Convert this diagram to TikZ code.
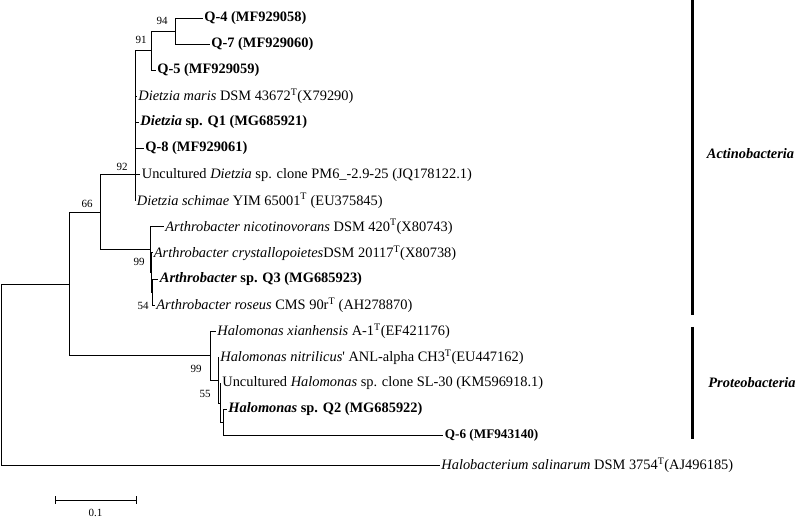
\documentclass[tikz,border=0pt]{standalone}
\usepackage{fontspec}
\setmainfont{Liberation Serif}
\newcommand{\strT}{\textsuperscript{T}}

\begin{document}
\begin{tikzpicture}[x=1pt,y=-1pt,line width=0.8pt,every node/.style={inner sep=1.5pt},leaf/.style={anchor=west,font=\fontsize{14.4}{16}\selectfont},boot/.style={inner sep=0pt,font=\fontsize{11}{12}\selectfont},clade/.style={anchor=west,font=\fontsize{14.4}{16}\selectfont\bfseries\itshape},bar/.style={line width=3pt}]
\useasboundingbox (0,0) rectangle (798,521);
% inner nodes
\coordinate (root) at (1,374.5);
\coordinate (nA) at (69,284);
\coordinate (n66) at (100,212.2);
\coordinate (n92) at (135,174.8);
\coordinate (n91) at (151.7,50.6);
\coordinate (n94) at (175,31.05);
\coordinate (nA99) at (150.5,249.6);
\coordinate (nX) at (151.5,272.5);
\coordinate (n54) at (152.5,292);
\coordinate (nH99) at (210.5,355.7);
\coordinate (n55) at (218.5,380.2);
\coordinate (nY) at (220.5,403);
\coordinate (nZ) at (223.5,422.5);
% taxa
\node[leaf] (q4) at (202.5,18) {\textbf{Q-4 (MF929058)}};
\node[leaf] (q7) at (209.5,44.1) {\textbf{Q-7 (MF929060)}};
\node[leaf] (q5) at (155.5,70.2) {\textbf{Q-5 (MF929059)}};
\node[leaf] (dmaris) at (136.5,96.3) {\textit{Dietzia maris} DSM 43672\strT(X79290)};
\node[leaf] (q1) at (138.5,122.4) {\textbf{\textit{Dietzia} sp. Q1 (MG685921)}};
\node[leaf] (q8) at (143.5,148.5) {\textbf{Q-8 (MF929061)}};
\node[leaf] (undiet) at (140,174.6) {Uncultured \textit{Dietzia} sp. clone PM6\_-2.9-25 (JQ178122.1)};
\node[leaf] (dschim) at (135,200.7) {\textit{Dietzia schimae} YIM 65001\strT{} (EU375845)};
\node[leaf] (anicot) at (163.5,226.8) {\textit{Arthrobacter nicotinovorans} DSM 420\strT(X80743)};
\node[leaf] (acryst) at (152,252.9) {\textit{Arthrobacter crystallopoietes}DSM 20117\strT(X80738)};
\node[leaf] (q3) at (158,279) {\textbf{\textit{Arthrobacter} sp. Q3 (MG685923)}};
\node[leaf] (aros) at (154.5,305.1) {\textit{Arthrobacter roseus} CMS 90r\strT{} (AH278870)};
\node[leaf] (hxian) at (215.5,331.2) {\textit{Halomonas xianhensis} A-1\strT(EF421176)};
\node[leaf] (hnitr) at (218.5,357.3) {\textit{Halomonas nitrilicus}\textquotesingle{} ANL-alpha CH3\strT(EU447162)};
\node[leaf] (unhalo) at (220.5,383.4) {Uncultured \textit{Halomonas} sp. clone SL-30 (KM596918.1)};
\node[leaf] (q2) at (226.5,409.5) {\textbf{\textit{Halomonas} sp. Q2 (MG685922)}};
\node[leaf,font=\fontsize{13.2}{15}\selectfont] (q6) at (443,435.6) {\textbf{Q-6 (MF943140)}};
\node[leaf] (hsal) at (439.5,465) {\textit{Halobacterium salinarum} DSM 3754\strT(AJ496185)};
% branches
\draw (root) |- (nA);
\draw (root) |- (hsal.west);
\draw (nA) |- (n66);
\draw (nA) |- (nH99);
\draw (n66) |- (n92);
\draw (n66) |- (nA99);
\draw (n92) |- (n91);
\draw (n92) |- (dmaris.west);
\draw (n92) |- (q1.west);
\draw (n92) |- (q8.west);
\draw (n92) |- (undiet.west);
\draw (n92) |- (dschim.west);
\draw (n91) |- (n94);
\draw (n91) |- (q5.west);
\draw (n94) |- (q4.west);
\draw (n94) |- (q7.west);
\draw (nA99) |- (anicot.west);
\draw (nA99) |- (nX);
\draw (nX) |- (acryst.west);
\draw (nX) |- (n54);
\draw (n54) |- (q3.west);
\draw (n54) |- (aros.west);
\draw (nH99) |- (hxian.west);
\draw (nH99) |- (n55);
\draw (n55) |- (hnitr.west);
\draw (n55) |- (nY);
\draw (nY) |- (unhalo.west);
\draw (nY) |- (nZ);
\draw (nZ) |- (q2.west);
\draw (nZ) |- (q6.west);
% bootstrap values
\node[boot] (b94) at (162,21) {94};
\node[boot] (b91) at (141,40) {91};
\node[boot] (b92) at (122,167) {92};
\node[boot] (b66) at (87,204) {66};
\node[boot] (b99a) at (139,262) {99};
\node[boot] (b54) at (143,306) {54};
\node[boot] (b99h) at (196,369) {99};
\node[boot] (b55) at (205,394) {55};
% scale
\coordinate (s0) at (55,500);
\coordinate (s1) at (136,500);
\draw (s0) -- (s1);
\draw ([yshift=4pt]s0) -- ([yshift=-4pt]s0);
\draw ([yshift=4pt]s1) -- ([yshift=-4pt]s1);
\node[boot] (sc) at (95.5,513) {0.1};
% groups
\coordinate (a0) at (692.5,0);
\coordinate (a1) at (692.5,315);
\coordinate (p0) at (692.5,327);
\coordinate (p1) at (692.5,439);
\draw[bar] (a0) -- (a1);
\draw[bar] (p0) -- (p1);
\node[clade] (actino) at (705,154) {Actinobacteria};
\node[clade] (proteo) at (706.5,383) {Proteobacteria};
\end{tikzpicture}
\end{document}
